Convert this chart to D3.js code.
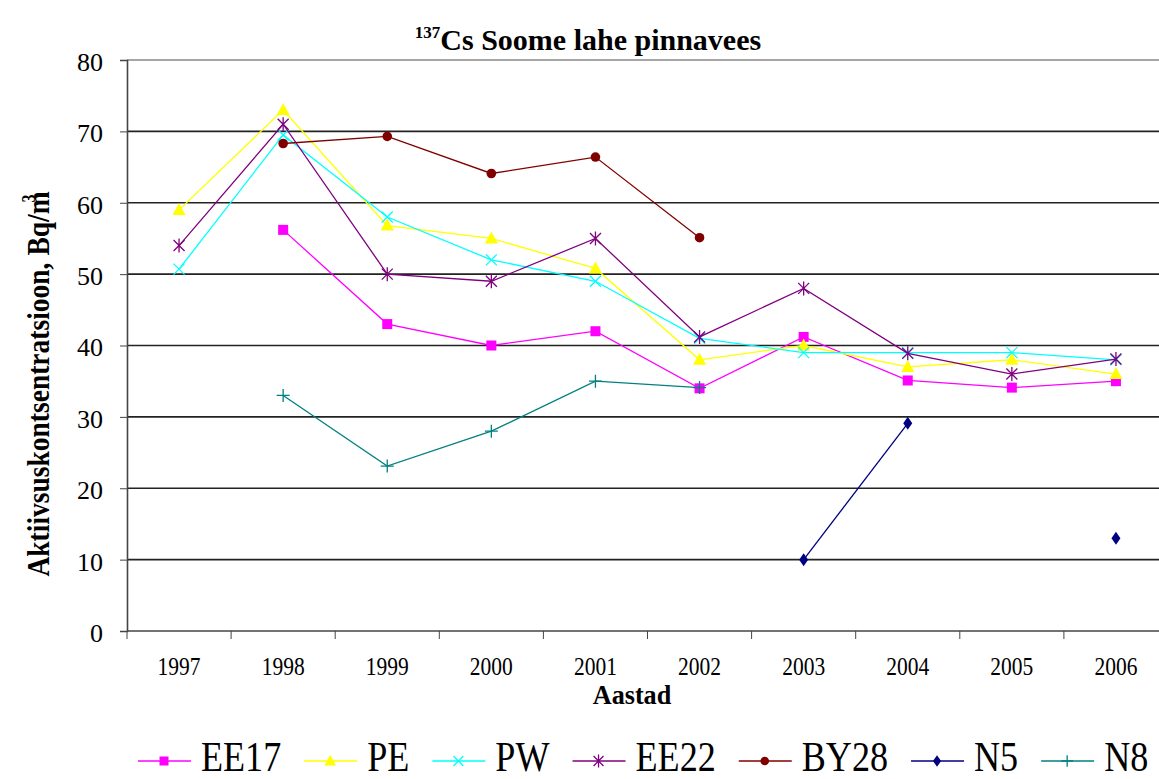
<!DOCTYPE html>
<html><head><meta charset="utf-8">
<script src="https://cdn.jsdelivr.net/npm/d3@7"></script>
<style>body{margin:0;background:#fff;} svg{display:block;}</style>
</head><body>
<svg id="c" width="1159" height="779"></svg>
<script>
const years = ["1997","1998","1999","2000","2001","2002","2003","2004","2005","2006"];
const yTicks = [0,10,20,30,40,50,60,70,80];
const EE17 = [null,56.2,43,40,42,34,41.2,35.1,34.1,35];
const PE   = [59,73,56.8,55,50.8,38,40,37,38,36];
const PW   = [50.7,69.5,58,52,49,41,39,39,39,38];
const EE22 = [54,71,50,49,55,41.2,48,38.9,36,38.1];
const BY28 = [null,68.3,69.3,64.1,66.4,55.1,null,null,null,null];
const N5   = [null,null,null,null,null,null,10,29.1,null,13];
const N8   = [null,33,23.1,28,35,34.1,null,null,null,null];
const seriesNames = ["EE17","PE","PW","EE22","BY28","N5","N8"];
const seriesValues = [EE17,PE,PW,EE22,BY28,N5,N8];
const colors = ["#FF00FF","#FFFF00","#00FFFF","#800080","#800000","#000080","#008080"];
const markers = ["square","triangle","x","asterisk","circle","diamond","plus"];

const svg = d3.select("#c");
const L = 127, R = 1168, T = 60, B = 631;
const x = d3.scaleBand().domain(years).range([L, R]);
const y = d3.scaleLinear().domain([0, 80]).range([B, T]);
const serif = "'Liberation Serif','Times New Roman',serif";
const SX = 0.86;

// gridlines
svg.append("g").selectAll("line").data(yTicks.filter(d => d > 0)).join("line")
  .attr("x1", L).attr("x2", R).attr("y1", d => y(d)).attr("y2", d => y(d))
  .attr("stroke", d => d === 80 ? "#888" : "#222").attr("stroke-width", 1.6);

// y axis
const yAxis = svg.append("g").attr("transform", `translate(${L},0)`)
  .call(d3.axisLeft(y).tickValues(yTicks).tickSize(7).tickPadding(17));
yAxis.select(".domain").attr("stroke", "#444").attr("stroke-width", 1.6);
yAxis.selectAll(".tick line").attr("stroke", "#444");
yAxis.selectAll("text").attr("font-family", serif).attr("font-size", 26).attr("fill", "#000").attr("dy", "0.4em");

// x axis
const xAxis = svg.append("g").attr("transform", `translate(0,${B})`);
xAxis.append("line").attr("x1", L).attr("x2", R).attr("y1", 0).attr("y2", 0).attr("stroke", "#444").attr("stroke-width", 1.6);
xAxis.selectAll("line.tk").data(years).join("line").attr("class","tk")
  .attr("x1", d => x(d)).attr("x2", d => x(d)).attr("y1", 0).attr("y2", 8)
  .attr("stroke", "#444");
xAxis.selectAll("text").data(years).join("text")
  .attr("transform", d => `translate(${x(d) + x.bandwidth()/2},44) scale(${SX},1)`)
  .attr("text-anchor", "middle").attr("font-family", serif).attr("font-size", 25)
  .text(d => d);

// titles
const title = svg.append("text").attr("x", 588).attr("y", 50).attr("text-anchor", "middle")
  .attr("font-family", serif).attr("font-weight", "bold").attr("font-size", 30);
title.append("tspan").attr("font-size", 17).attr("dy", -12).text("137");
title.append("tspan").attr("dy", 12).text("Cs Soome lahe pinnavees");

svg.append("text").attr("transform", `translate(632,704) scale(0.97,1)`).attr("text-anchor", "middle")
  .attr("font-family", serif).attr("font-weight", "bold").attr("font-size", 27).text("Aastad");

const yl = svg.append("text").attr("transform", `translate(49,384) rotate(-90) scale(${SX},1)`)
  .attr("text-anchor", "middle").attr("font-family", serif).attr("font-weight", "bold").attr("font-size", 32);
yl.append("tspan").text("Aktiivsuskontsentratsioon, Bq/m");
yl.append("tspan").attr("font-size", 19).attr("dy", -14).attr("dx", -13).text("3");

// markers
function drawMarker(g, type, color, cx, cy, s) {
  s = s || 1;
  if (type === "square") {
    g.append("rect").attr("x", cx-5*s).attr("y", cy-5*s).attr("width", 10*s).attr("height", 10*s).attr("fill", color);
  } else if (type === "triangle") {
    g.append("path").attr("d", `M${cx},${cy-7*s}L${cx+6.5*s},${cy+5*s}L${cx-6.5*s},${cy+5*s}Z`).attr("fill", color);
  } else if (type === "circle") {
    g.append("circle").attr("cx", cx).attr("cy", cy).attr("r", 4.8*s).attr("fill", color);
  } else if (type === "diamond") {
    g.append("path").attr("d", `M${cx},${cy-6.5*s}L${cx+4.5*s},${cy}L${cx},${cy+6.5*s}L${cx-4.5*s},${cy}Z`).attr("fill", color);
  } else if (type === "x") {
    const r = 5.5*s;
    g.append("path").attr("d", `M${cx-r},${cy-r}L${cx+r},${cy+r}M${cx-r},${cy+r}L${cx+r},${cy-r}`).attr("stroke", color).attr("stroke-width", 1.3).attr("fill","none");
  } else if (type === "asterisk") {
    const r = 5.5*s;
    g.append("path").attr("d", `M${cx-r},${cy-r}L${cx+r},${cy+r}M${cx-r},${cy+r}L${cx+r},${cy-r}M${cx},${cy-r-1.5}L${cx},${cy+r+1.5}`).attr("stroke", color).attr("stroke-width", 1.3).attr("fill","none");
  } else if (type === "plus") {
    const r = 6.5*s;
    g.append("path").attr("d", `M${cx-r},${cy}L${cx+r},${cy}M${cx},${cy-r}L${cx},${cy+r}`).attr("stroke", color).attr("stroke-width", 1.3).attr("fill","none");
  }
}

const line = d3.line().defined(d => d.v !== null).x(d => x(d.yr) + x.bandwidth()/2).y(d => y(d.v));
seriesValues.forEach((vals, i) => {
  const data = vals.map((v, j) => ({yr: years[j], v}));
  const g = svg.append("g");
  g.append("path").datum(data).attr("d", line).attr("fill", "none").attr("stroke", colors[i]).attr("stroke-width", 1.3);
  data.filter(d => d.v !== null).forEach(d => drawMarker(g, markers[i], colors[i], x(d.yr) + x.bandwidth()/2, y(d.v)));
});

// legend
const lg = svg.append("g");
let lx = 138;
const ly = 761;
seriesNames.forEach((name, i) => {
  lg.append("line").attr("x1", lx).attr("x2", lx + 53).attr("y1", ly).attr("y2", ly).attr("stroke", colors[i]).attr("stroke-width", 1.5);
  drawMarker(lg, markers[i], colors[i], lx + 26, ly, 0.9);
  const t = lg.append("text").attr("transform", `translate(${lx + 63},771) scale(${SX},1)`)
    .attr("font-family", serif).attr("font-size", 42).text(name);
  lx = lx + 63 + t.node().getComputedTextLength() * SX + 23;
});
</script>
</body></html>
